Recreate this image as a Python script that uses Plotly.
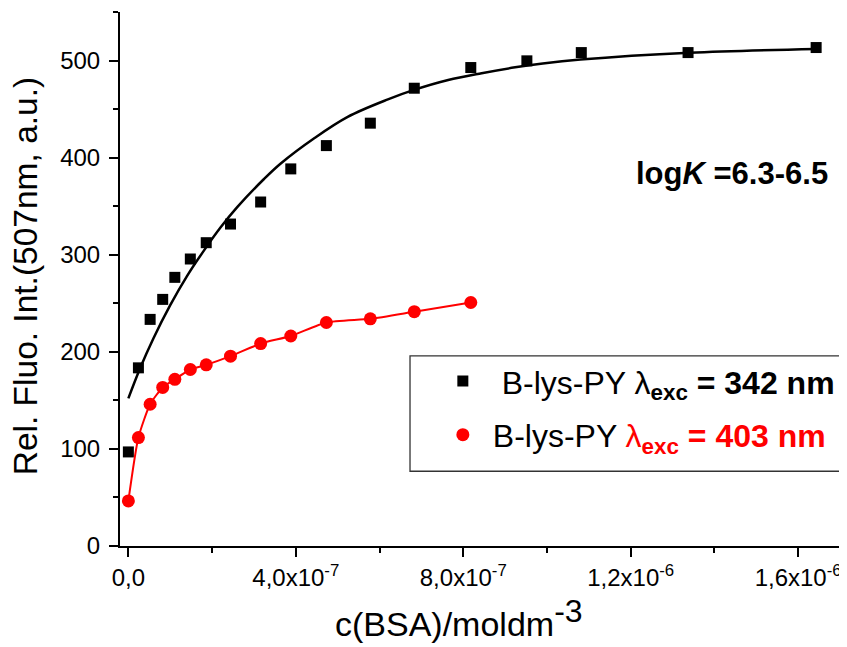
import plotly.graph_objects as go

# ---- data ----
conc = [0.0, 0.24e-7, 0.52e-7, 0.82e-7, 1.11e-7, 1.48e-7, 1.86e-7, 2.44e-7, 3.16e-7,
        3.88e-7, 4.73e-7, 5.78e-7, 6.83e-7, 8.18e-7, 9.52e-7, 10.82e-7, 13.37e-7, 16.43e-7]
fluo_342 = [96.9, 183.5, 233.4, 254.0, 276.7, 295.6, 312.4, 331.6, 354.3,
            388.4, 412.4, 435.5, 471.5, 492.8, 499.7, 508.2, 508.2, 513.4]

conc_403 = conc[:14]
fluo_403 = [46.4, 111.7, 146.0, 163.3, 171.7, 181.8, 186.6, 195.5, 208.5,
            216.3, 230.2, 234.0, 241.3, 250.8]

fit_conc = [0.0, 0.28e-7, 0.6e-7, 1.0e-7, 1.4e-7, 1.8e-7, 2.2e-7, 2.6e-7, 3.24e-7, 3.64e-7,
            4.44e-7, 5.24e-7, 6.2e-7, 6.84e-7, 7.64e-7, 8.44e-7, 9.24e-7, 9.9e-7, 10.8e-7,
            13.4e-7, 16.43e-7]
fit_342 = [152, 183, 214, 248, 278, 304, 328, 349, 378, 394,
           420, 442, 460, 470, 480, 487, 493, 497, 501, 508, 512]

x_tickvals = [0, 4e-7, 8e-7, 1.2e-6, 1.6e-6]
x_ticktext = ["0,0", "4,0x10<sup>-7</sup>", "8,0x10<sup>-7</sup>",
              "1,2x10<sup>-6</sup>", "1,6x10<sup>-6</sup>"]
y_tickvals = [0, 100, 200, 300, 400, 500]

name_342 = " B-lys-PY \u03bb<sub><b>exc</b></sub><b> = 342 nm</b>"
name_403 = "B-lys-PY <span style='color:#FF0000'>\u03bb<sub><b>exc</b></sub><b> = 403 nm</b></span>"

FONT = "Liberation Sans, Arial, sans-serif"

fig = go.Figure()
fig.add_trace(go.Scatter(x=fit_conc, y=fit_342, mode="lines",
                         line=dict(color="black", width=2.5, shape="spline"),
                         showlegend=False, hoverinfo="skip"))
fig.add_trace(go.Scatter(x=conc, y=fluo_342, mode="markers", name=name_342, legendgroup="a",
                         marker=dict(symbol="square", size=11, color="black")))
fig.add_trace(go.Scatter(x=conc_403, y=fluo_403, mode="lines", showlegend=False,
                         line=dict(color="#FF0000", width=2, shape="spline", smoothing=0.6),
                         hoverinfo="skip"))
fig.add_trace(go.Scatter(x=conc_403, y=fluo_403, mode="markers", name=name_403, legendgroup="b",
                         marker=dict(symbol="circle", size=13, color="#FF0000")))

# page body adds an 8px offset, so the figure is 8px smaller than the window
fig.update_layout(
    width=839, height=639,
    margin=dict(l=112, r=7, t=4, b=101),
    paper_bgcolor="white", plot_bgcolor="white",
    font=dict(family=FONT, color="black"),
    legend=dict(x=0.4345, y=0.36, xanchor="left", yanchor="top",
                borderwidth=0, bgcolor="rgba(0,0,0,0)",
                font=dict(size=32, family=FONT, color="black"),
                tracegroupgap=9, itemwidth=50),
    shapes=[dict(type="rect", xref="paper", yref="paper",
                 x0=0.4028, x1=1.007, y0=0.14, y1=0.356,
                 line=dict(color="#333333", width=1.3), fillcolor="rgba(0,0,0,0)", layer="below")],
    xaxis=dict(range=[-2e-8, 1.7e-6], showgrid=False, zeroline=False,
               showline=True, linecolor="black", linewidth=2,
               ticks="outside", ticklen=9, tickwidth=2, tickcolor="black",
               tickvals=x_tickvals, ticktext=x_ticktext,
               tickfont=dict(size=24, family=FONT),
               minor=dict(dtick=2e-7, tick0=0, ticks="outside", ticklen=5, tickwidth=2, tickcolor="black")),
    yaxis=dict(range=[0, 550], showgrid=False, zeroline=False,
               showline=True, linecolor="black", linewidth=2,
               ticks="outside", ticklen=9, tickwidth=2, tickcolor="black",
               tickvals=y_tickvals, tickfont=dict(size=24, family=FONT),
               ticklabelstandoff=4,
               minor=dict(dtick=50, tick0=0, ticks="outside", ticklen=5, tickwidth=2, tickcolor="black")),
    annotations=[
        dict(text="Rel. Fluo. Int.(507nm, a.u.)", textangle=-90, xref="paper", yref="paper",
             x=-0.132, y=0.505, xanchor="center", yanchor="middle", showarrow=False,
             font=dict(size=33.5, family=FONT)),
        dict(text="c(BSA)/moldm<sup><span style='font-size:32px'>-3</span></sup>", xref="paper", yref="paper",
             x=0.471, y=-0.085, xanchor="center", yanchor="top", showarrow=False,
             font=dict(size=34, family=FONT)),
        dict(text="<b>log<i>K</i> =6.3-6.5</b>", xref="paper", yref="paper",
             x=0.85, y=0.698, xanchor="center", yanchor="middle", showarrow=False,
             font=dict(size=31, family=FONT)),
    ],
)

fig.write_html("out.html")
